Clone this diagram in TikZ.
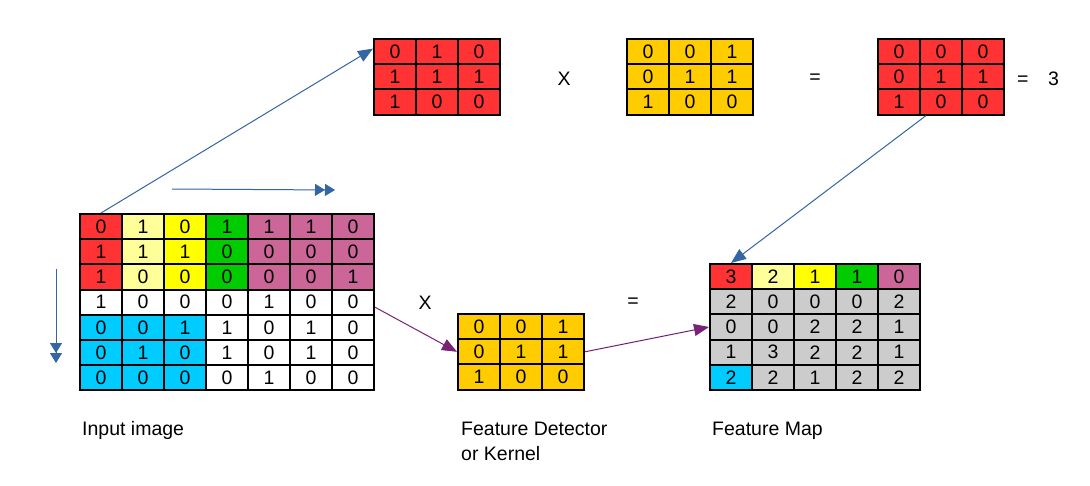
\documentclass[tikz,border=0pt]{standalone}
\usepackage{fontspec}
\setmainfont{Liberation Sans}
\usetikzlibrary{arrows.meta}
\definecolor{rd}{RGB}{255,51,51}
\definecolor{ly}{RGB}{255,255,153}
\definecolor{yl}{RGB}{255,255,0}
\definecolor{gr}{RGB}{0,204,0}
\definecolor{mv}{RGB}{204,102,153}
\definecolor{cy}{RGB}{0,204,255}
\definecolor{gd}{RGB}{255,204,0}
\definecolor{gy}{RGB}{204,204,204}
\definecolor{wt}{RGB}{255,255,255}
\definecolor{arrblue}{RGB}{52,101,164}
\definecolor{arrpurple}{RGB}{119,36,119}
% 行列を描くマクロ：名前、左上x、左上y、各行の値/色
\newcommand{\cellgrid}[4]{%
  \foreach \row [count=\i] in {#4} {%
    \foreach \v/\c [count=\j] in \row {%
      \node[cell, fill=\c] (#1-\i-\j) at ({#2+(\j-0.5)*42}, {#3+(\i-0.5)*25.2}) {\v};
    }%
  }%
}

\begin{document}
\begin{tikzpicture}[x=1pt, y=-1pt,
  cell/.style={draw, line width=2pt, minimum width=42pt, minimum height=25.2pt, inner sep=0pt, font=\fontsize{19.5}{21}\selectfont}, % 升目
  lbl/.style={inner sep=0pt, font=\fontsize{19.5}{25}\selectfont}, % 文字
  bluearr/.style={arrblue, line width=1pt, -{Triangle[length=15pt,width=12pt]}}, % 青の矢印
  dblarr/.style={arrblue, line width=1pt, -{Triangle[length=10pt,width=12pt]Triangle[length=10pt,width=12pt]}}, % 二重矢印
  purarr/.style={arrpurple, line width=1pt, -{Triangle[length=15pt,width=12pt]}}] % 紫の矢印
  \useasboundingbox[fill=white] (0,0) rectangle (1090,485); % 余白込みの大きさ

  % 入力画像
  \cellgrid{in}{80}{214}{{0/rd,1/ly,0/yl,1/gr,1/mv,1/mv,0/mv},
    {1/rd,1/ly,1/yl,0/gr,0/mv,0/mv,0/mv},
    {1/rd,0/ly,0/yl,0/gr,0/mv,0/mv,1/mv},
    {1/wt,0/wt,0/wt,0/wt,1/wt,0/wt,0/wt},
    {0/cy,0/cy,1/cy,1/wt,0/wt,1/wt,0/wt},
    {0/cy,1/cy,0/cy,1/wt,0/wt,1/wt,0/wt},
    {0/cy,0/cy,0/cy,0/wt,1/wt,0/wt,0/wt}}

  % 上の三つの行列
  \cellgrid{top}{374}{39}{{0/rd,1/rd,0/rd},{1/rd,1/rd,1/rd},{1/rd,0/rd,0/rd}}
  \cellgrid{topk}{627}{39}{{0/gd,0/gd,1/gd},{0/gd,1/gd,1/gd},{1/gd,0/gd,0/gd}}
  \cellgrid{res}{878}{39}{{0/rd,0/rd,0/rd},{0/rd,1/rd,1/rd},{1/rd,0/rd,0/rd}}

  % カーネル
  \cellgrid{kern}{458}{314}{{0/gd,0/gd,1/gd},{0/gd,1/gd,1/gd},{1/gd,0/gd,0/gd}}

  % 特徴マップ
  \cellgrid{fm}{710}{264}{{3/rd,2/ly,1/yl,1/gr,0/mv},
    {2/gy,0/gy,0/gy,0/gy,2/gy},
    {0/gy,0/gy,2/gy,2/gy,1/gy},
    {1/gy,3/gy,2/gy,2/gy,1/gy},
    {2/cy,2/gy,1/gy,2/gy,2/gy}}

  % 記号
  \node[lbl] (x1) at (564,79) {X};
  \node[lbl] (eq1) at (815,79) {=};
  \node[lbl] (eq2) at (1038,79) {=\quad 3};
  \node[lbl] (x2) at (425,303) {X};
  \node[lbl] (eq3) at (633,303) {=};

  % 説明
  \node[lbl, anchor=base west] (inlbl) at (82,435) {Input image};
  \node[lbl, anchor=base west, align=left] (kernlbl) at (461,460) {Feature Detector\\or Kernel}; % baseは最後の行
  \node[lbl, anchor=base west] (fmlbl) at (712,435) {Feature Map};

  % 矢印
  \coordinate (hs) at (172,189); \coordinate (he) at (335,190); % 横の移動
  \coordinate (vs) at (56,269); \coordinate (ve) at (56,363); % 縦の移動
  \draw[bluearr] (in-1-1.north) -- ([yshift=3pt]top-1-1.west);
  \draw[dblarr] (hs) -- (he);
  \draw[dblarr] (vs) -- (ve);
  \draw[bluearr] ([xshift=7pt]res-3-2.south west) -- (fm-1-1.north);
  \draw[purarr] ([yshift=-5pt]in-4-7.east) -- (kern-2-1.west);
  \draw[purarr] (kern-2-3.east) -- (fm-3-1.west);

\end{tikzpicture}
\end{document}
